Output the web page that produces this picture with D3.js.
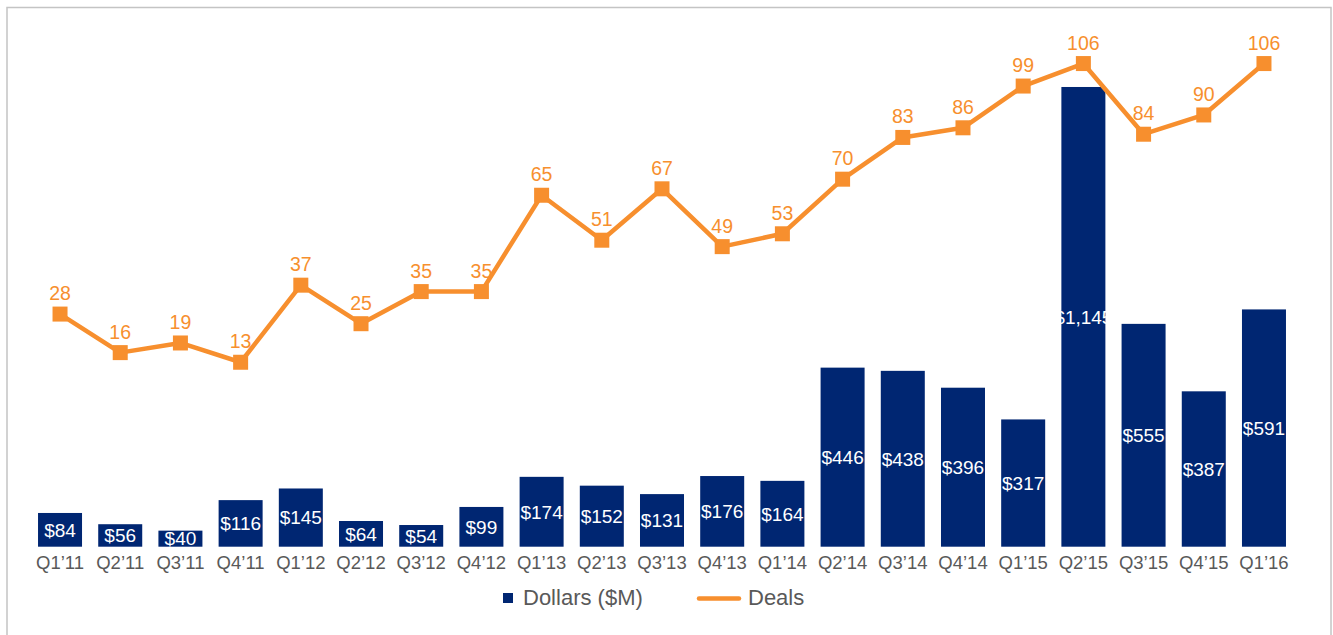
<!DOCTYPE html>
<html><head><meta charset="utf-8">
<script src="https://cdn.jsdelivr.net/npm/d3@7"></script>
<style>
html,body{margin:0;padding:0;background:#fff;overflow:hidden;}
svg{display:block;font-family:Arial,"Liberation Sans",sans-serif;}
</style></head>
<body>
<svg id="chart" width="1333" height="635"></svg>
<script>
const categories = ["Q1\u201911","Q2\u201911","Q3\u201911","Q4\u201911","Q1\u201912","Q2\u201912","Q3\u201912","Q4\u201912","Q1\u201913","Q2\u201913","Q3\u201913","Q4\u201913","Q1\u201914","Q2\u201914","Q3\u201914","Q4\u201914","Q1\u201915","Q2\u201915","Q3\u201915","Q4\u201915","Q1\u201916"];
const dollars = [84,56,40,116,145,64,54,99,174,152,131,176,164,446,438,396,317,1145,555,387,591];
const deals = [28,16,19,13,37,25,35,35,65,51,67,49,53,70,83,86,99,106,84,90,106];
const seriesNames = ["Dollars ($M)", "Deals"];

const navy = "#002672", orange = "#F78F2E", gray = "#595959";
const svg = d3.select("#chart");

svg.append("rect").attr("x",7).attr("y",7.5).attr("width",1324).attr("height",640)
  .attr("fill","none").attr("stroke","#c4c4c4").attr("stroke-width",1.5);

const x = d3.scaleBand().domain(categories).range([29.9, 1294.1]).paddingInner(0.269).paddingOuter(0.135);
const yBar = d3.scaleLinear().domain([0,1200]).range([546.7, 64.9]);
const yLine = d3.scaleLinear().domain([0,120]).range([404, 18.6]);

// bars
svg.append("g").selectAll("rect").data(dollars).join("rect")
  .attr("x",(d,i)=>x(categories[i])).attr("width",x.bandwidth())
  .attr("y",d=>yBar(d)).attr("height",d=>yBar(0)-yBar(d)).attr("fill",navy);

svg.append("g").selectAll("text").data(dollars).join("text")
  .attr("x",(d,i)=>x(categories[i])+x.bandwidth()/2)
  .attr("y",d=>(yBar(d)+yBar(0))/2 + 6.8)
  .attr("text-anchor","middle").attr("fill","#fff").attr("font-size",19)
  .text(d=>"$"+d3.format(",")(d));

// x axis labels
const xAxis = d3.axisBottom(x).tickSize(0).tickPadding(0);
const gx = svg.append("g").attr("transform","translate(0,552)").call(xAxis);
gx.select(".domain").remove();
gx.selectAll("text").attr("fill",gray).attr("font-size",18.5).attr("font-family","Arial,'Liberation Sans',sans-serif").attr("dy","0.93em");

// line
const cx = (i)=>x(categories[i])+x.bandwidth()/2;
svg.append("path").datum(deals)
  .attr("d",d3.line().x((d,i)=>cx(i)).y(d=>yLine(d)))
  .attr("fill","none").attr("stroke",orange).attr("stroke-width",4.5).attr("stroke-linejoin","round");
svg.append("g").selectAll("rect").data(deals).join("rect")
  .attr("x",(d,i)=>cx(i)-7.5).attr("y",d=>yLine(d)-7.5).attr("width",15).attr("height",15).attr("fill",orange);
svg.append("g").selectAll("text").data(deals).join("text")
  .attr("x",(d,i)=>cx(i)).attr("y",d=>yLine(d)-14)
  .attr("text-anchor","middle").attr("fill",orange).attr("font-size",19.5)
  .text(d=>d);

// legend
const lg = svg.append("g");
lg.append("rect").attr("x",503).attr("y",593).attr("width",10).attr("height",10).attr("fill",navy);
lg.append("text").attr("x",523).attr("y",605).attr("fill",gray).attr("font-size",22).text(seriesNames[0]);
lg.append("line").attr("x1",699).attr("x2",739).attr("y1",598.5).attr("y2",598.5)
  .attr("stroke",orange).attr("stroke-width",4.5).attr("stroke-linecap","round");
lg.append("text").attr("x",748).attr("y",605).attr("fill",gray).attr("font-size",22).text(seriesNames[1]);
</script>
</body></html>
